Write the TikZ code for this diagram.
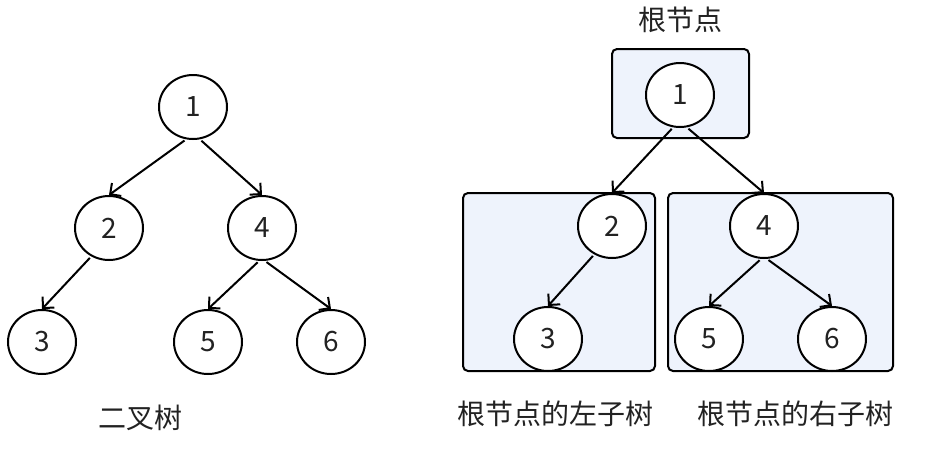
\documentclass[tikz,border=0pt]{standalone}
\usepackage{fontspec}
\setmainfont{Noto Sans CJK SC}
\usetikzlibrary{arrows.meta,shapes.geometric}
\definecolor{boxfill}{HTML}{EEF3FC}
\definecolor{txt}{HTML}{222222}
\begin{document}
\begin{tikzpicture}[x=1pt,y=-1pt,
  tn/.style={ellipse,draw=black,line width=2pt,fill=white,minimum width=68pt,minimum height=64pt,inner sep=0pt,text=txt,font=\fontsize{28}{32}\selectfont},
  conn/.style={line width=2pt,-{Straight Barb[length=8pt,width=16pt,line width=2pt]},shorten <=2pt},
  sub/.style={draw=black,line width=2pt,fill=boxfill,rounded corners=5pt},
  lbl/.style={text=txt,font=\fontsize{28}{32}\selectfont}]
\useasboundingbox (0,0) rectangle (927,448);
% left tree
\node[tn] (a1) at (193,107) {1};
\node[tn] (a2) at (109,228) {2};
\node[tn] (a4) at (262,228) {4};
\node[tn] (a3) at (42,342) {3};
\node[tn] (a5) at (208,342) {5};
\node[tn] (a6) at (331,342) {6};
\draw[conn] (a1.258) -- (a2.north);
\draw[conn] (a1.282) -- (a4.north);
\draw[conn] (a2.238) -- (a3.north);
\draw[conn] (a4.265) -- (a5.north);
\draw[conn] (a4.275) -- (a6.north);
\node[lbl] (t0) at (140,418) {二叉树};
% right tree
\draw[sub] (612,49) rectangle (749,138);
\draw[sub] (463,193) rectangle (655,371);
\draw[sub] (668,193) rectangle (893,371);
\node[tn] (b1) at (680,95) {1};
\node[tn] (b2) at (612,226) {2};
\node[tn] (b4) at (764,226) {4};
\node[tn] (b3) at (548,339) {3};
\node[tn] (b5) at (709,339) {5};
\node[tn] (b6) at (832,339) {6};
\draw[conn] (b1.258) -- (b2.north);
\draw[conn] (b1.282) -- (b4.north);
\draw[conn] (b2.238) -- (b3.north);
\draw[conn] (b4.265) -- (b5.north);
\draw[conn] (b4.275) -- (b6.north);
\node[lbl] (t1) at (680,20) {根节点};
\node[lbl] (t2) at (555,414) {根节点的左子树};
\node[lbl] (t3) at (795,414) {根节点的右子树};
\end{tikzpicture}
\end{document}
